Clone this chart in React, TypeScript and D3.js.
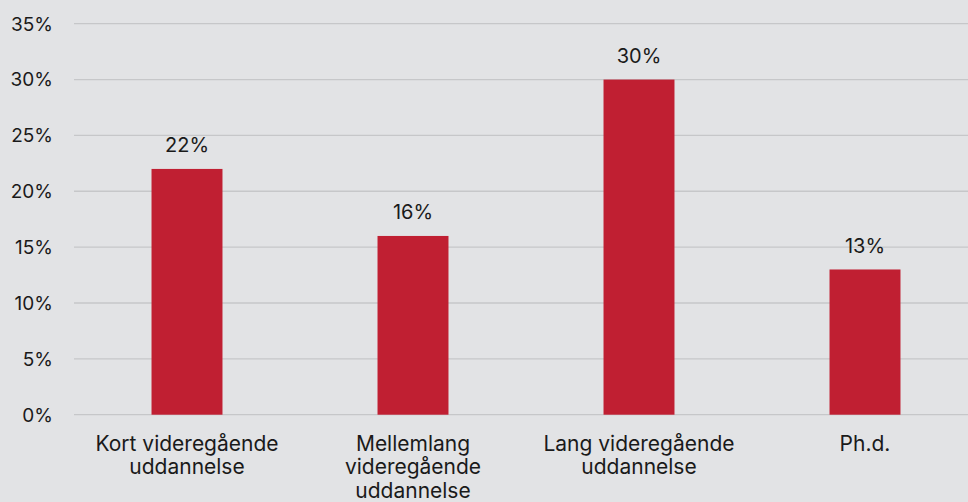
import React from "react";
import * as d3 from "d3";

const categories = [
  ["Kort videregående", "uddannelse"],
  ["Mellemlang", "videregående", "uddannelse"],
  ["Lang videregående", "uddannelse"],
  ["Ph.d."],
];
const values = [22, 16, 30, 13];
const yTicks = [0, 5, 10, 15, 20, 25, 30, 35];

const W = 968;
const H = 502;
const FONT = "Inter, 'Noto Sans', sans-serif";

export default function App() {
  const x = d3
    .scaleBand<number>()
    .domain(values.map((_, i) => i))
    .range([74, 978])
    .paddingInner(0.686)
    .paddingOuter(0.343);
  const y = d3.scaleLinear().domain([0, 35]).range([414.7, 23.7]);

  return (
    <svg
      width={W}
      height={H}
      style={{ position: "absolute", left: 0, top: 0, background: "#e2e3e5" }}
      fontFamily={FONT}
    >
      <rect x={0} y={0} width={W} height={H} fill="#e2e3e5" />
      {yTicks.map((t) => (
        <g key={t}>
          <line x1={74} x2={W} y1={y(t)} y2={y(t)} stroke="#c6c7c9" strokeWidth={1.3} />
          <text x={53} y={y(t)} dy="0.36em" textAnchor="end" fontSize={19} fill="#1a1a1a">
            {t}%
          </text>
        </g>
      ))}
      {values.map((v, i) => (
        <g key={i}>
          <rect
            x={x(i)!}
            y={y(v)}
            width={x.bandwidth()}
            height={y(0) - y(v)}
            fill="#c01f32"
          />
          <text
            x={x(i)! + x.bandwidth() / 2}
            y={y(v) - 16.5}
            textAnchor="middle"
            fontSize={20}
            fill="#1a1a1a"
          >
            {v}%
          </text>
        </g>
      ))}
      {categories.map((lines, i) => (
        <text
          key={i}
          x={x(i)! + x.bandwidth() / 2}
          textAnchor="middle"
          fontSize={21}
          fill="#1a1a1a"
        >
          {lines.map((l, j) => (
            <tspan key={j} x={x(i)! + x.bandwidth() / 2} y={451 + j * 23.4}>
              {l}
            </tspan>
          ))}
        </text>
      ))}
    </svg>
  );
}
